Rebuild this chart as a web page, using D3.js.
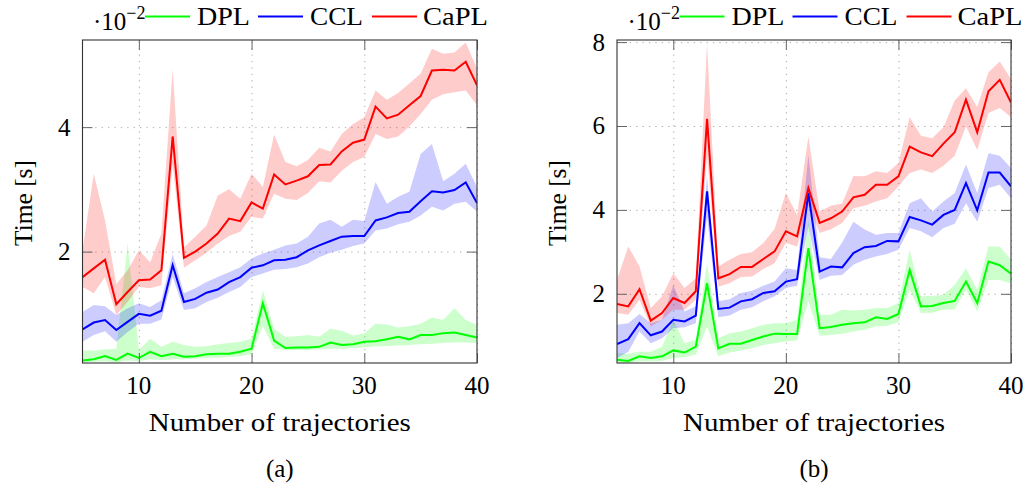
<!DOCTYPE html>
<html>
<head>
<meta charset="utf-8">
<script src="https://cdn.jsdelivr.net/npm/d3@7"></script>
<style>
body { margin: 0; background: #fff; }
</style>
</head>
<body>
<div id="chart"></div>
<script>
// number of trajectories (x)
const trajectories = [5, 6, 7, 8, 9, 10, 11, 12, 13, 14, 15, 16, 17, 18, 19, 20, 21, 22,
	23, 24, 25, 26, 27, 28, 29, 30, 31, 32, 33, 34, 35, 36, 37, 38, 39, 40]

const seriesNames = ['DPL', 'CCL', 'CaPL']
const seriesColors = ['#00ff00', '#0000ff', '#ff0000']

// panel (a), values in units of 1e-2 s
const dplA = [0.25, 0.27, 0.32, 0.26, 0.36, 0.29, 0.39, 0.32, 0.36, 0.31, 0.32, 0.35, 0.36, 0.36, 0.39, 0.44, 1.17, 0.57,
	0.45, 0.46, 0.46, 0.47, 0.54, 0.50, 0.51, 0.55, 0.56, 0.59, 0.63, 0.59, 0.66, 0.66, 0.69, 0.70, 0.66, 0.62]
const dplAHi = [0.41, 0.41, 0.43, 0.44, 2.13, 0.42, 0.60, 0.47, 0.55, 0.50, 0.47, 0.48, 0.51, 0.53, 0.55, 0.60, 1.38, 0.76,
	0.63, 0.64, 0.66, 0.63, 0.76, 0.73, 0.65, 0.69, 0.84, 0.83, 0.78, 0.80, 0.84, 0.94, 0.90, 1.09, 0.90, 0.82]
const dplALo = [0.22, 0.23, 0.24, 0.22, 0.25, 0.24, 0.27, 0.26, 0.27, 0.27, 0.28, 0.29, 0.30, 0.31, 0.32, 0.35, 0.80, 0.44,
	0.42, 0.42, 0.42, 0.43, 0.44, 0.44, 0.45, 0.46, 0.48, 0.48, 0.49, 0.50, 0.51, 0.52, 0.53, 0.54, 0.54, 0.53]

const cclA = [0.75, 0.86, 0.90, 0.74, 0.87, 1.00, 0.97, 1.05, 1.78, 1.19, 1.24, 1.34, 1.39, 1.51, 1.59, 1.74, 1.78, 1.86,
	1.87, 1.91, 2.02, 2.10, 2.17, 2.24, 2.25, 2.25, 2.50, 2.55, 2.62, 2.64, 2.81, 2.97, 2.95, 2.99, 3.11, 2.78]
const cclAHi = [1.03, 1.14, 1.12, 0.98, 1.09, 1.17, 1.11, 1.22, 1.96, 1.33, 1.41, 1.51, 1.59, 1.67, 1.75, 1.89, 1.97, 2.03,
	2.10, 2.13, 2.24, 2.45, 2.51, 2.40, 2.51, 2.49, 3.12, 2.77, 2.88, 2.96, 3.57, 3.73, 3.13, 3.25, 3.41, 3.04]
const cclALo = [0.55, 0.66, 0.72, 0.55, 0.71, 0.84, 0.84, 0.91, 1.59, 1.06, 1.09, 1.19, 1.26, 1.35, 1.43, 1.59, 1.65, 1.71,
	1.72, 1.75, 1.81, 1.91, 1.98, 2.03, 2.09, 2.13, 2.34, 2.37, 2.44, 2.48, 2.58, 2.72, 2.66, 2.77, 2.80, 2.64]

const caplA = [1.59, 1.73, 1.87, 1.155, 1.35, 1.54, 1.55, 1.70, 3.85, 1.90, 2.00, 2.13, 2.29, 2.53, 2.49, 2.79, 2.69, 3.24,
	3.08, 3.14, 3.21, 3.39, 3.40, 3.61, 3.75, 3.80, 4.33, 4.14, 4.20, 4.35, 4.50, 4.91, 4.92, 4.91, 5.05, 4.67]
const caplAHi = [2.02, 3.25, 2.50, 1.48, 1.70, 2.02, 1.83, 2.29, 4.94, 2.07, 2.24, 2.42, 2.90, 3.00, 2.85, 3.25, 3.04, 3.88,
	3.44, 3.37, 3.47, 3.67, 3.61, 3.89, 4.05, 4.16, 4.59, 4.44, 4.55, 4.70, 4.86, 5.26, 5.18, 5.20, 5.36, 4.94]
const caplALo = [1.43, 1.33, 1.59, 0.98, 1.19, 1.43, 1.41, 1.46, 3.40, 1.74, 1.86, 1.98, 2.13, 2.25, 2.32, 2.56, 2.53, 2.93,
	2.85, 2.83, 2.94, 3.13, 3.11, 3.30, 3.44, 3.52, 3.89, 3.81, 3.85, 4.01, 4.21, 4.44, 4.53, 4.56, 4.59, 4.35]

// panel (b)
const dplB = [0.43, 0.40, 0.51, 0.47, 0.51, 0.65, 0.60, 0.74, 2.25, 0.70, 0.81, 0.81, 0.90, 0.98, 1.05, 1.04, 1.04, 3.09,
	1.18, 1.21, 1.26, 1.30, 1.32, 1.44, 1.40, 1.52, 2.57, 1.70, 1.71, 1.78, 1.83, 2.29, 1.78, 2.77, 2.68, 2.48]
const dplBHi = [0.59, 0.57, 0.62, 0.62, 0.74, 1.38, 0.82, 0.90, 2.73, 0.94, 1.06, 1.10, 1.18, 1.26, 1.30, 1.30, 1.38, 3.76,
	1.50, 1.50, 1.62, 1.60, 1.62, 1.66, 1.66, 1.78, 3.05, 1.94, 1.95, 1.98, 2.21, 2.61, 2.10, 3.13, 3.13, 2.81]
const dplBLo = [0.35, 0.35, 0.39, 0.39, 0.40, 0.47, 0.49, 0.55, 1.22, 0.51, 0.60, 0.65, 0.70, 0.78, 0.82, 0.86, 0.89, 1.82,
	1.00, 1.02, 1.05, 1.10, 1.14, 1.22, 1.24, 1.32, 2.10, 1.54, 1.55, 1.62, 1.63, 2.10, 1.58, 2.33, 2.33, 2.25]

const cclB = [0.80, 0.92, 1.30, 1.01, 1.10, 1.38, 1.34, 1.48, 4.44, 1.64, 1.67, 1.82, 1.87, 2.02, 2.06, 2.29, 2.35, 4.40,
	2.53, 2.65, 2.63, 2.97, 3.11, 3.14, 3.26, 3.25, 3.83, 3.75, 3.65, 3.88, 4.00, 4.64, 3.99, 4.89, 4.89, 4.56]
const cclBHi = [1.26, 1.30, 1.52, 1.30, 1.38, 2.21, 1.58, 1.70, 4.80, 1.82, 1.87, 2.02, 2.07, 2.19, 2.29, 2.61, 2.57, 5.31,
	2.87, 2.83, 3.22, 3.72, 3.53, 3.41, 3.45, 3.45, 4.16, 4.28, 3.96, 4.20, 4.40, 5.08, 4.40, 5.35, 5.29, 5.00]
const cclBLo = [0.47, 0.62, 1.10, 0.82, 0.94, 1.18, 1.20, 1.30, 3.84, 1.44, 1.48, 1.62, 1.68, 1.82, 1.94, 2.14, 2.19, 3.61,
	2.33, 2.43, 2.45, 2.69, 2.81, 2.89, 2.95, 3.05, 3.57, 3.49, 3.35, 3.57, 3.67, 4.16, 3.72, 4.52, 4.60, 4.28]

const caplB = [1.76, 1.70, 2.11, 1.36, 1.54, 1.90, 1.78, 2.06, 6.17, 2.37, 2.47, 2.64, 2.64, 2.83, 3.01, 3.49, 3.37, 4.52,
	3.69, 3.80, 3.96, 4.30, 4.36, 4.60, 4.60, 4.80, 5.51, 5.37, 5.28, 5.58, 5.85, 6.63, 5.85, 6.83, 7.10, 6.56]
const caplBHi = [2.33, 3.13, 2.65, 1.66, 1.94, 2.49, 2.14, 2.37, 7.98, 2.65, 2.81, 2.95, 2.99, 3.21, 3.55, 4.40, 3.88, 5.75,
	3.96, 4.10, 4.15, 4.81, 4.80, 4.92, 4.88, 5.12, 6.21, 5.77, 5.71, 5.97, 6.61, 6.90, 6.45, 7.28, 7.54, 7.12]
const caplBLo = [1.54, 1.50, 1.86, 1.22, 1.38, 1.62, 1.62, 1.86, 5.30, 2.17, 2.25, 2.40, 2.41, 2.59, 2.73, 3.21, 3.13, 4.10,
	3.45, 3.54, 3.69, 4.04, 4.10, 4.20, 4.28, 4.56, 4.88, 4.96, 4.88, 5.05, 5.29, 5.99, 5.43, 6.31, 6.43, 6.21]

const xTicks = [10, 20, 30, 40]
const yTicksA = [2, 4]
const yTicksB = [2, 4, 6, 8]

const svg = d3
	.select('#chart')
	.append('svg')
	.attr('width', 1030)
	.attr('height', 488)
	.attr('font-family', "'Liberation Serif', 'Times New Roman', Times, serif")

let drawPanel = (id, left, right, yDomain, yTicks, caption, series) => {
	const top = 40
	const bottom = 363
	const x = d3.scaleLinear().domain([5, 40]).range([left, right])
	const y = d3.scaleLinear().domain(yDomain).range([bottom, top])
	const g = svg.append('g')

	g.append('clipPath')
		.attr('id', `clip-${id}`)
		.append('rect')
		.attr('x', left)
		.attr('y', top)
		.attr('width', right - left)
		.attr('height', bottom - top)

	// dotted grid
	g.append('g')
		.attr('transform', `translate(0,${bottom})`)
		.call(d3.axisBottom(x).tickValues(xTicks).tickSize(-(bottom - top)).tickFormat(''))
		.call(a => a.select('.domain').remove())
		.selectAll('line')
		.attr('stroke', '#a8a8a8')
		.attr('stroke-dasharray', '1.2,5.2')
	g.append('g')
		.attr('transform', `translate(${left},0)`)
		.call(d3.axisLeft(y).tickValues(yTicks).tickSize(-(right - left)).tickFormat(''))
		.call(a => a.select('.domain').remove())
		.selectAll('line')
		.attr('stroke', '#a8a8a8')
		.attr('stroke-dasharray', '1.2,5.2')

	const plot = g.append('g').attr('clip-path', `url(#clip-${id})`)

	const area = d3
		.area()
		.x((d, i) => x(trajectories[i]))
		.y0(d => y(d[0]))
		.y1(d => y(d[1]))
	const line = d3
		.line()
		.x((d, i) => x(trajectories[i]))
		.y(d => y(d))

	series.forEach((s, k) => {
		plot.append('path')
			.datum(s.lo.map((v, i) => [v, s.hi[i]]))
			.attr('fill', seriesColors[k])
			.attr('fill-opacity', 0.2)
			.attr('d', area)
	})
	series.forEach((s, k) => {
		plot.append('path')
			.datum(s.mean)
			.attr('fill', 'none')
			.attr('stroke', seriesColors[k])
			.attr('stroke-width', 2)
			.attr('d', line)
	})

	// ticks inside the frame, on all four sides
	const tickLen = 10
	const axes = [
		[d3.axisBottom(x).tickValues(xTicks), `translate(0,${bottom})`],
		[d3.axisTop(x).tickValues(xTicks), `translate(0,${top})`],
		[d3.axisLeft(y).tickValues(yTicks), `translate(${left},0)`],
		[d3.axisRight(y).tickValues(yTicks), `translate(${right},0)`]
	]
	axes.forEach(([ax, tr]) => {
		g.append('g')
			.attr('transform', tr)
			.call(ax.tickSize(-tickLen).tickFormat(''))
			.call(a => a.select('.domain').remove())
			.selectAll('line')
			.attr('stroke', '#666')
			.attr('stroke-width', 1)
	})

	g.append('rect')
		.attr('x', left)
		.attr('y', top)
		.attr('width', right - left)
		.attr('height', bottom - top)
		.attr('fill', 'none')
		.attr('stroke', '#333')
		.attr('stroke-width', 1.1)

	// tick labels
	g.selectAll('.xlab')
		.data(xTicks)
		.enter()
		.append('text')
		.attr('x', d => x(d))
		.attr('y', 394)
		.attr('text-anchor', 'middle')
		.attr('font-size', 25)
		.text(d => d)
	g.selectAll('.ylab')
		.data(yTicks)
		.enter()
		.append('text')
		.attr('x', left - 12)
		.attr('y', d => y(d) + 8.5)
		.attr('text-anchor', 'end')
		.attr('font-size', 25)
		.text(d => d)

	// axis titles (stretched a little toward the width of the original serif face)
	g.append('text')
		.attr('x', (left + right) / 2)
		.attr('y', 431)
		.attr('text-anchor', 'middle')
		.attr('font-size', 25)
		.attr('textLength', 262)
		.attr('lengthAdjust', 'spacingAndGlyphs')
		.text('Number of trajectories')
	g.append('text')
		.attr('transform', `translate(${left - 51},203) rotate(-90)`)
		.attr('text-anchor', 'middle')
		.attr('font-size', 25)
		.attr('textLength', 86)
		.attr('lengthAdjust', 'spacingAndGlyphs')
		.text('Time [s]')
	g.append('text')
		.attr('x', (left + right) / 2)
		.attr('y', 477)
		.attr('text-anchor', 'middle')
		.attr('font-size', 25)
		.text(caption)

	// scale factor and legend above the frame
	const sf = g.append('text')
		.attr('x', left + 10.5)
		.attr('y', 30)
		.attr('font-size', 25)
	sf.append('tspan').text('·10')
	sf.append('tspan').attr('font-size', 18).attr('dy', -11).text('−2')

	const legendLine = [62.5, 175.5, 289.5]
	const legendText = [114.5, 227.5, 340.5]
	const legendWidth = [53, 53, 65]
	seriesNames.forEach((name, k) => {
		g.append('line')
			.attr('x1', left + legendLine[k])
			.attr('x2', left + legendLine[k] + 45)
			.attr('y1', 16.5)
			.attr('y2', 16.5)
			.attr('stroke', seriesColors[k])
			.attr('stroke-width', 2)
		g.append('text')
			.attr('x', left + legendText[k])
			.attr('y', 24.5)
			.attr('font-size', 25)
			.attr('textLength', legendWidth[k])
			.attr('lengthAdjust', 'spacingAndGlyphs')
			.text(name)
	})
}

drawPanel('a', 82.5, 477, [0.21, 5.4], yTicksA, '(a)', [
	{ mean: dplA, lo: dplALo, hi: dplAHi },
	{ mean: cclA, lo: cclALo, hi: cclAHi },
	{ mean: caplA, lo: caplALo, hi: caplAHi }
])
drawPanel('b', 617, 1011, [0.35, 8.05], yTicksB, '(b)', [
	{ mean: dplB, lo: dplBLo, hi: dplBHi },
	{ mean: cclB, lo: cclBLo, hi: cclBHi },
	{ mean: caplB, lo: caplBLo, hi: caplBHi }
])
</script>
</body>
</html>
